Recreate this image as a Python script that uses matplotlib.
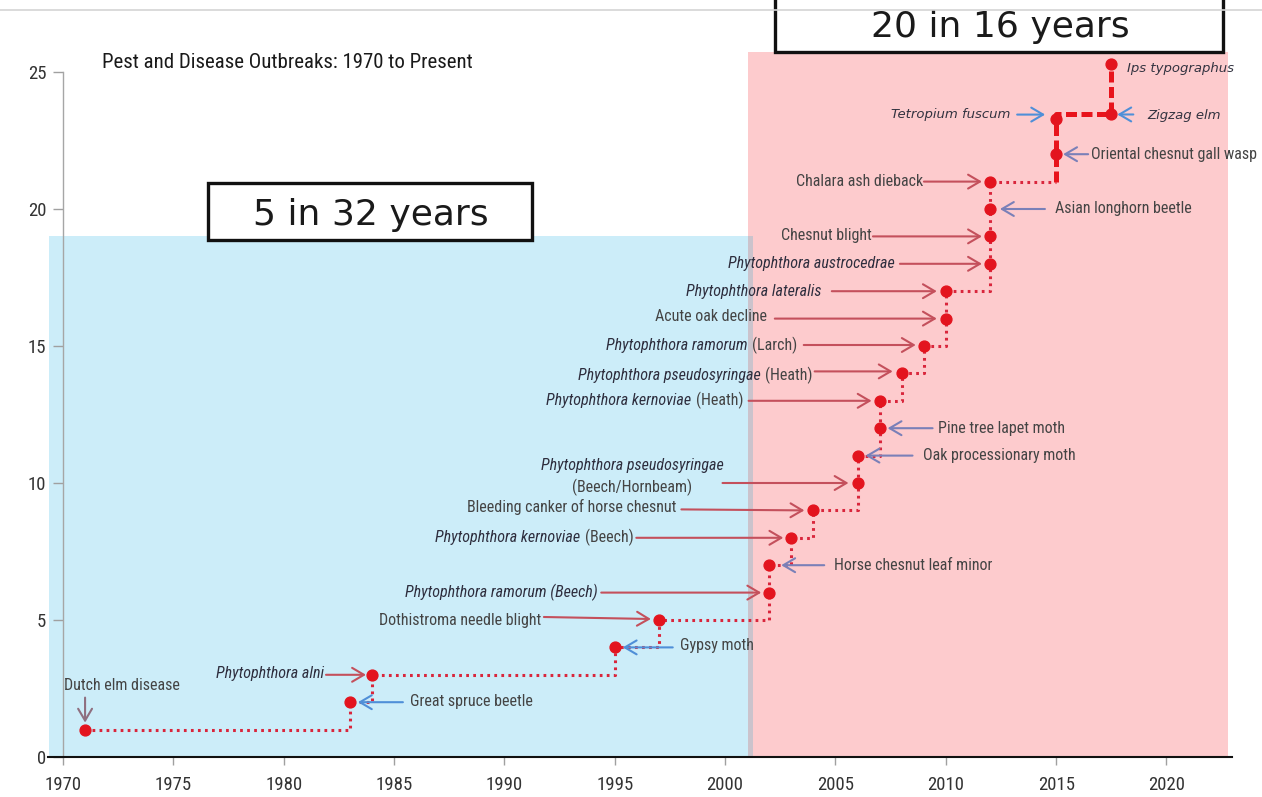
import matplotlib
matplotlib.use("Agg")
import matplotlib.pyplot as plt
from matplotlib import font_manager
from matplotlib.patches import Rectangle
from matplotlib.lines import Line2D
from matplotlib.transforms import offset_copy

# ---------------- data ----------------
names = [
    "Dutch elm disease", "Great spruce beetle", "Phytophthora alni", "Gypsy moth",
    "Dothistroma needle blight", "Phytophthora ramorum (Beech)", "Horse chesnut leaf minor",
    "Phytophthora kernoviae (Beech)", "Bleeding canker of horse chesnut",
    "Phytophthora pseudosyringae\n(Beech/Hornbeam)", "Oak processionary moth",
    "Pine tree lapet moth", "Phytophthora kernoviae (Heath)",
    "Phytophthora pseudosyringae (Heath)", "Phytophthora ramorum (Larch)",
    "Acute oak decline", "Phytophthora lateralis", "Phytophthora austrocedrae",
    "Chesnut blight", "Asian longhorn beetle", "Chalara ash dieback",
    "Oriental chesnut gall wasp", "Tetropium fuscum", "Zigzag elm", "Ips typographus",
]
years = [1971, 1983, 1984, 1995, 1997, 2002, 2002, 2003, 2004, 2006, 2006, 2007, 2007,
         2008, 2009, 2010, 2010, 2012, 2012, 2012, 2012, 2015, 2015, 2017.5, 2017.5]
counts = [1, 2, 3, 4, 5, 6, 7, 8, 9, 10, 11, 12, 13, 14, 15, 16, 17, 18, 19, 20, 21, 22,
          23.3, 23.45, 25.3]
x_ticks = [1970, 1975, 1980, 1985, 1990, 1995, 2000, 2005, 2010, 2015, 2020]
y_ticks = [0, 5, 10, 15, 20, 25]
title = "Pest and Disease Outbreaks: 1970 to Present"
early_label = "5 in 32 years"
late_label = "20 in 16 years"
early_span = (1969.35, 2001.15)
late_span = (2001.05, 2022.8)

# label styles: n normal, i italic, p italic genus+species then normal, w wide oblique
styles = ['n', 'n', 'i', 'n', 'n', 'i', 'n', 'p', 'n', 'p', 'n', 'n', 'p', 'p', 'p',
          'n', 'i', 'i', 'n', 'n', 'n', 'n', 'w', 'w', 'w']

# layout: text offset (px), ha, arrow tail offset, arrow head offset, arrow colour key
layout = [
    ((37, 44), 'center', (0, 32), (0, 7), 'purple'),
    ((60, 1), 'left', (53, 0), (8, 0), 'blue'),
    ((-48, 1), 'right', (-46, 0), (-6, 0), 'red'),
    ((65, 2), 'left', (58, 0), (8, 0), 'blue'),
    ((-118, -1), 'right', (-115, 3), (-8, 1), 'red'),
    ((-171, 0), 'right', (-168, 0), (-8, 0), 'red'),
    ((65, 0), 'left', (55, 0), (12, 0), 'slate'),
    ((-158, 0), 'right', (-155, 0), (-8, 0), 'red'),
    ((-137, 3), 'right', (-132, 1), (-9, 0), 'red'),
    ((-225, 7), 'center', (-135, 0), (-9, 0), 'red'),
    ((65, 0), 'left', (55, 0), (8, 0), 'slate'),
    ((58, 0), 'left', (53, 0), (8, 0), 'slate'),
    ((-136, 0), 'right', (-131, 0), (-8, 0), 'red'),
    ((-89, -2), 'right', (-87, 2), (-9, 2), 'red'),
    ((-126, 1), 'right', (-120, 1), (-8, 1), 'red'),
    ((-179, 2), 'right', (-171, 0), (-9, 0), 'red'),
    ((-124, 0), 'right', (-114, 0), (-9, 0), 'red'),
    ((-95, 0), 'right', (-90, 0), (-8, 0), 'red'),
    ((-118, 1), 'right', (-117, 0), (-8, 0), 'red'),
    ((65, 1), 'left', (55, 0), (10, 0), 'slate'),
    ((-67, 0), 'right', (-66, 0), (-8, 0), 'red'),
    ((35, 0), 'left', (32, 0), (7, 0), 'slate'),
    ((-46, 4), 'right', (-39, 4), (-11, 4), 'blue'),
    ((36, -1), 'left', (22, 0), (6, 0), 'blue'),
    ((16, -5), 'left', None, None, None),
]
arrow_colors = {'red': '#c4505c', 'blue': '#4f8fd8', 'slate': '#7a80b8', 'purple': '#8f6f80'}

# ---------------- fonts ----------------
avail = {f.name for f in font_manager.fontManager.ttflist}
NARROW = None
for cand in ['Liberation Sans Narrow', 'Roboto Condensed', 'Open Sans Condensed',
             'Noto Sans Condensed', 'DejaVu Sans Condensed']:
    if cand in avail:
        NARROW = cand
        break
if NARROW is None:
    cond = sorted(n for n in avail if 'Condensed' in n or 'Narrow' in n)
    NARROW = cond[0] if cond else 'Liberation Sans'
SCALE = 1.0 if NARROW != 'Liberation Sans' else 0.84
WIDE = 'DejaVu Sans'
LBL = 11.5 * SCALE
TXT = '#444444'

# ---------------- figure ----------------
W, H = 1262, 797
fig = plt.figure(figsize=(W / 100, H / 100), dpi=100)
xlo, xhi = 1969.3, 2022.95
ppy = 22.07
left_px = 63 - (1970 - xlo) * ppy
right_px = 63 + (xhi - 1970) * ppy
ax = fig.add_axes([left_px / W, (H - 757) / H, (right_px - left_px) / W, 757 / H])
ax.set_xlim(xlo, xhi)
ax.set_ylim(0, 757 / 27.4)
ax.patch.set_alpha(0)

ax.add_patch(Rectangle((early_span[0], 0), early_span[1] - early_span[0], 19,
                       facecolor='#ccedf9', edgecolor='none', zorder=0))
ax.add_patch(Rectangle((late_span[0], 0), late_span[1] - late_span[0], 25.73,
                       facecolor='#fdcbcd', edgecolor='none', zorder=0))
ax.add_patch(Rectangle((late_span[0], 0), 0.2, 19,
                       facecolor='#cbc3cc', edgecolor='none', zorder=0.5))

for s in ['top', 'right']:
    ax.spines[s].set_visible(False)
ax.spines['left'].set_position(('data', 1970))
ax.spines['left'].set_bounds(0, 25)
ax.spines['left'].set_color('#a6a6a6')
ax.spines['left'].set_linewidth(1)
ax.spines['bottom'].set_color('#111111')
ax.spines['bottom'].set_linewidth(1.5)
ax.set_xticks(x_ticks)
ax.set_yticks(y_ticks)
ax.tick_params(axis='x', length=6, width=1, color='#a0a0a0', pad=8,
               labelsize=13.5 * SCALE, labelcolor='#333333')
ax.tick_params(axis='y', length=7, width=1, color='#a0a0a0', pad=5,
               labelsize=13.5 * SCALE, labelcolor='#333333')
for lab in ax.get_xticklabels() + ax.get_yticklabels():
    lab.set_family(NARROW)

# step lines
n_thin = 21
ax.step(years[:n_thin] + [years[n_thin]], counts[:n_thin] + [counts[n_thin - 1]],
        where='post', color='#d9263c', lw=2.2, linestyle=(0, (0.9, 1.4)),
        dash_capstyle='butt', zorder=3)
ax.step([years[n_thin]] + years[n_thin:], [counts[n_thin - 1]] + counts[n_thin:],
        where='pre', color='#e8141c', lw=3.6, linestyle=(0, (2.2, 0.9)), zorder=3)
ax.plot(years, counts, 'o', color='#e3141e', ms=7.8, mec='#e3141e', zorder=4)

# labels and arrows
fig.canvas.draw()
renderer = fig.canvas.get_renderer()


def font_kw(style):
    if style == 'w':
        return dict(family=WIDE, style='oblique', size=9.5, color='#333340')
    if style == 'i':
        return dict(family=NARROW, style='italic', size=LBL, color='#2e2e3e')
    return dict(family=NARROW, style='normal', size=LBL, color=TXT)


def put(i, s, dx, dy, ha, style):
    return ax.annotate(s, xy=(years[i], counts[i]), xytext=(dx, dy),
                       textcoords='offset pixels', ha=ha, va='center',
                       zorder=6, annotation_clip=False, **font_kw(style))


for i, name in enumerate(names):
    (tdx, tdy), ha, tail, head, ckey = layout[i]
    st = styles[i]
    if st == 'p':
        if '\n' in name:
            l1, l2 = name.split('\n')
            put(i, l1, tdx, tdy + 11, 'center', 'i')
            put(i, l2, tdx, tdy - 11, 'center', 'n')
        else:
            words = name.split(' ')
            ital = ' '.join(words[:2])
            rest = ' '.join(words[2:])
            t = put(i, rest, tdx, tdy, 'right', 'n')
            w = t.get_window_extent(renderer).width
            gap = LBL * 0.28 * 100 / 72
            put(i, ital, tdx - w - gap, tdy, 'right', 'i')
    else:
        put(i, name, tdx, tdy, ha, st)
    if tail is not None:
        trans = offset_copy(ax.transData, fig=fig, x=head[0], y=head[1], units='dots')
        ax.annotate('', xy=(years[i], counts[i]), xycoords=trans,
                    xytext=(tail[0] - head[0], tail[1] - head[1]),
                    textcoords='offset pixels', annotation_clip=False, zorder=5,
                    arrowprops=dict(arrowstyle='->,head_length=0.85,head_width=0.5',
                                    color=arrow_colors[ckey], lw=1.5,
                                    shrinkA=0, shrinkB=0, mutation_scale=10))

# boxes
ax.add_patch(Rectangle((1976.57, 18.87), 14.68, 2.08, facecolor='white',
                       edgecolor='#111111', lw=2.4, zorder=5))
ax.text(1983.96, 19.42, early_label, ha='center', va='baseline', family=WIDE,
        size=26, color='#1a1a1a', zorder=6)
ax.add_patch(Rectangle((2002.26, 25.73), 20.3, 3.5, facecolor='white',
                       edgecolor='#111111', lw=2.4, zorder=5, clip_on=False))
ax.text(2012.46, 26.28, late_label, ha='center', va='baseline', family=WIDE,
        size=26, color='#1a1a1a', zorder=6)

fig.text(102 / W, 1 - 62 / H, title, ha='left', va='center', family=NARROW,
         size=15 * (0.9 / 0.84 if SCALE < 1 else 1) * SCALE, color='#1a1a1a')

fig.add_artist(Line2D([0, 1], [1 - 10 / H] * 2, transform=fig.transFigure,
                      color='#d4d4d4', lw=1.2))

fig.savefig('out.png', dpi=100)
